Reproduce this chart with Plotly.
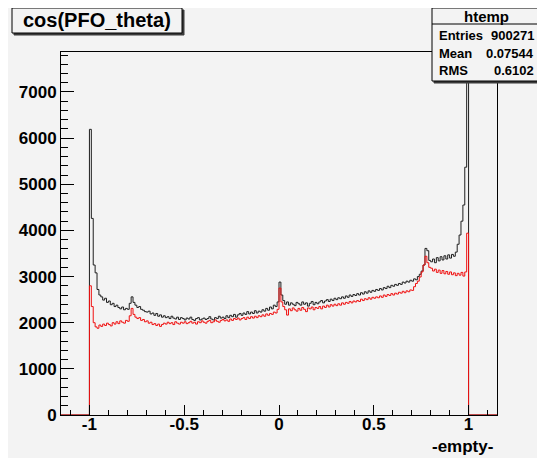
import numpy as np
import plotly.graph_objects as go

# --- histogram contents, 200 bins of width 0.01 from -1 to 1 ---
bin_lo, bin_width = -1.0, 0.01

all_pfo = [
    6190, 4260, 3250, 3080, 2720, 2600, 2560, 2490, 2530, 2440,
    2470, 2390, 2420, 2350, 2380, 2330, 2300, 2340, 2280, 2310,
    2290, 2420, 2560, 2440, 2380, 2330, 2350, 2290, 2270, 2240,
    2230, 2250, 2190, 2210, 2160, 2200, 2140, 2170, 2120, 2150,
    2110, 2130, 2090, 2140, 2100, 2080, 2120, 2070, 2110, 2090,
    2060, 2100, 2080, 2120, 2070, 2050, 2090, 2110, 2060, 2080,
    2100, 2070, 2090, 2130, 2080, 2060, 2110, 2090, 2140, 2100,
    2120, 2090, 2150, 2110, 2160, 2130, 2180, 2120, 2170, 2200,
    2160, 2210, 2180, 2240, 2190, 2230, 2200, 2260, 2210, 2250,
    2230, 2280, 2250, 2310, 2270, 2340, 2300, 2380, 2350, 2450,
    2880, 2600, 2480, 2400, 2450, 2380, 2430, 2400, 2370, 2440,
    2410, 2380, 2450, 2400, 2430, 2360, 2420, 2460, 2390, 2440,
    2410, 2450, 2480, 2430, 2470, 2500, 2460, 2510, 2480, 2530,
    2500, 2540, 2520, 2560, 2530, 2580, 2550, 2600, 2570, 2610,
    2590, 2630, 2600, 2650, 2620, 2670, 2640, 2690, 2660, 2700,
    2680, 2720, 2700, 2740, 2710, 2760, 2740, 2790, 2760, 2810,
    2790, 2830, 2810, 2850, 2830, 2880, 2860, 2900, 2880, 2920,
    2900, 2950, 2930, 3000, 3050, 3120, 3250, 3610, 3560, 3350,
    3320, 3380, 3300, 3410, 3340, 3430, 3360, 3450, 3380, 3470,
    3400, 3480, 3440, 3530, 3700, 3900, 4200, 4550, 5370, 7490,
]

selected_pfo = [
    2800, 2350, 2000, 1910, 1880, 1950, 1920, 1970, 1940, 1990,
    1960, 1930, 2000, 1970, 2020, 1980, 2040, 2010, 1990, 2050,
    2030, 2150, 2310, 2180, 2120, 2090, 2110, 2050, 2070, 2020,
    2040, 1990, 2010, 1960, 1980, 1940, 1970, 1920, 1960, 1990,
    1970, 2010, 1980, 2000, 1960, 2020, 1990, 1970, 2010, 1990,
    2020, 1980, 2000, 2030, 1990, 2010, 1970, 2020, 2000, 2040,
    2010, 1990, 2030, 2050, 2000, 2020, 2060, 2030, 2010, 2050,
    2070, 2040, 2060, 2030, 2080, 2050, 2090, 2070, 2100, 2060,
    2090, 2110, 2070, 2120, 2090, 2130, 2100, 2140, 2110, 2150,
    2130, 2170, 2140, 2190, 2160, 2200, 2180, 2230, 2210, 2290,
    2750, 2450, 2350, 2280, 2165, 2300, 2260, 2320, 2280, 2250,
    2310, 2270, 2330, 2290, 2240, 2320, 2300, 2340, 2280, 2330,
    2310, 2350, 2300, 2360, 2330, 2380, 2340, 2390, 2360, 2400,
    2370, 2410, 2380, 2430, 2400, 2440, 2420, 2460, 2430, 2470,
    2450, 2480, 2460, 2510, 2480, 2520, 2500, 2540, 2510, 2550,
    2530, 2560, 2540, 2580, 2550, 2600, 2570, 2610, 2590, 2630,
    2600, 2640, 2620, 2660, 2640, 2680, 2650, 2690, 2670, 2710,
    2700, 2780, 2850, 2900, 2990, 3100, 3250, 3440, 3300, 3200,
    3180, 3120, 3160, 3090, 3140, 3070, 3130, 3060, 3110, 3050,
    3100, 3040, 3080, 3020, 3070, 3030, 3090, 3010, 3100, 3940,
]

x_ticks = [-1, -0.5, 0, 0.5, 1]
x_ticklabels = ["-1", "-0.5", "0", "0.5", "1"]
y_ticks = [0, 1000, 2000, 3000, 4000, 5000, 6000, 7000]
y_ticklabels = ["0", "1000", "2000", "3000", "4000", "5000", "6000", "7000"]

stats_rows = [("Entries", "900271"), ("Mean", "0.07544"), ("RMS", "0.6102")]

x_range = [-1.15, 1.15]
y_range = [0, 7866]

bg = "#f3f3f3"
FONT = "Liberation Sans"

# left edges of the bins, then the histogram is drawn as a step line
edges = np.round(bin_lo + bin_width * np.arange(len(all_pfo)), 4)
hx = [x_range[0]] + list(edges) + [round(edges[-1] + bin_width, 4), x_range[1]]


def steps(vals):
    return [0] + list(vals) + [0, 0]


fig = go.Figure()
fig.add_trace(go.Scatter(
    x=hx, y=steps(all_pfo), mode="lines", line_shape="hv",
    line=dict(color="#1e1e1e", width=1), showlegend=False,
))
fig.add_trace(go.Scatter(
    x=hx, y=steps(selected_pfo), mode="lines", line_shape="hv",
    line=dict(color="#f01010", width=1), showlegend=False,
))

# the page puts the figure 8px in from the top-left corner, so work in
# page pixels and shift back by that amount
OFF = 8
W, H = 545 - OFF, 458 - OFF
L, R, T, B = 61, 497, 52, 415  # plot area in page pixels


def px(v):
    return (v - L) / (R - L)


def py(v):
    return (B - v) / (B - T)


def box(x0, y0, x1, y1, fill, line="black", w=1):
    return dict(type="rect", xref="paper", yref="paper",
                x0=px(x0), x1=px(x1), y0=py(y1), y1=py(y0),
                fillcolor=fill, line=dict(color=line, width=w), layer="above")


shapes = [
    # title pave with shadow
    box(14, 10, 184, 35, "#3a3a3a", line="#3a3a3a"),
    box(12, 8, 182, 33, bg),
    # stats box with shadow
    box(434, 10, 543, 83, "#3a3a3a", line="#3a3a3a"),
    box(432, 8, 541, 81, bg),
    dict(type="line", xref="paper", yref="paper",
         x0=px(432), x1=px(541), y0=py(24), y1=py(24),
         line=dict(color="black", width=1), layer="above"),
]

annotations = [
    dict(text="cos(PFO_theta)", x=px(97), y=py(20.5), xref="paper", yref="paper",
         showarrow=False, xanchor="center", yanchor="middle",
         font=dict(family=FONT, size=20, color="black", weight="bold")),
    dict(text="htemp", x=px(486.5), y=py(16), xref="paper", yref="paper",
         showarrow=False, xanchor="center", yanchor="middle",
         font=dict(family=FONT, size=15, color="black", weight="bold")),
    dict(text="-empty-", x=px(495), y=py(446), xref="paper", yref="paper",
         showarrow=False, xanchor="right", yanchor="middle",
         font=dict(family=FONT, size=17, color="black", weight="bold")),
]
for i, (name, val) in enumerate(stats_rows):
    yy = py(35 + 18 * i)
    annotations.append(dict(text=name, x=px(437), y=yy, xref="paper", yref="paper",
                            showarrow=False, xanchor="left", yanchor="middle",
                            font=dict(family=FONT, size=13, color="black", weight="bold")))
    annotations.append(dict(text=val, x=px(536), y=yy, xref="paper", yref="paper",
                            showarrow=False, xanchor="right", yanchor="middle",
                            font=dict(family=FONT, size=13, color="black", weight="bold")))

fig.update_layout(
    width=W, height=H,
    margin=dict(l=L - OFF, r=545 - R, t=T - OFF, b=458 - B, pad=0),
    paper_bgcolor=bg, plot_bgcolor=bg,
    shapes=shapes, annotations=annotations,
    showlegend=False,
)

fig.update_xaxes(
    range=x_range, tickmode="array", tickvals=x_ticks, ticktext=x_ticklabels,
    ticks="inside", ticklen=10, tickcolor="black", tickwidth=1,
    ticklabelstandoff=-6,
    minor=dict(tickmode="linear", tick0=0, dtick=0.1, ticks="inside",
               ticklen=5, tickcolor="black", tickwidth=1, showgrid=False),
    showgrid=False, zeroline=False, showline=True, mirror=True,
    linecolor="black", linewidth=1,
    tickfont=dict(family=FONT, size=17, color="black", weight="bold"),
)
fig.update_yaxes(
    range=y_range, tickmode="array", tickvals=y_ticks, ticktext=y_ticklabels,
    ticks="inside", ticklen=13, tickcolor="black", tickwidth=1,
    minor=dict(tickmode="linear", tick0=0, dtick=200, ticks="inside",
               ticklen=7, tickcolor="black", tickwidth=1, showgrid=False),
    showgrid=False, zeroline=False, showline=True, mirror=True,
    linecolor="black", linewidth=1,
    tickfont=dict(family=FONT, size=17, color="black", weight="bold"),
)

fig.write_html("out.html")
